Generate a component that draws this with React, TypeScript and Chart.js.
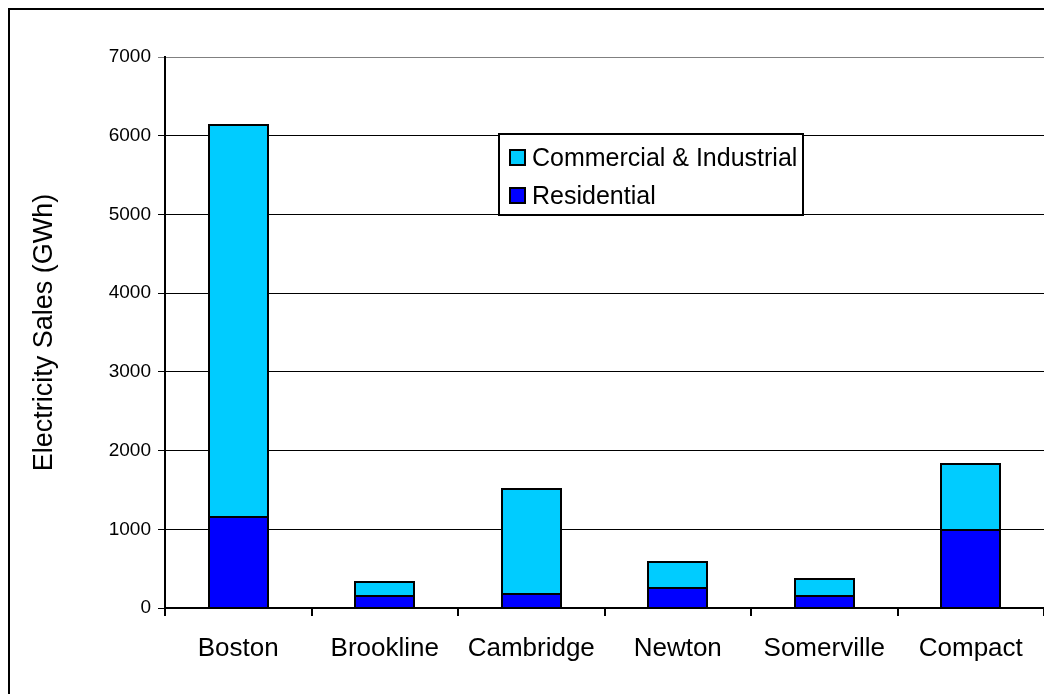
import React, { useEffect, useRef } from "react";
import { Chart, registerables } from "chart.js";

Chart.register(...registerables);

const categories = ["Boston", "Brookline", "Cambridge", "Newton", "Somerville", "Compact"];
const residential = [1160, 150, 175, 255, 155, 995];
const commercialIndustrial = [4970, 180, 1340, 335, 210, 838];
const yTicks = [0, 1000, 2000, 3000, 4000, 5000, 6000, 7000];
const seriesNames = ["Residential", "Commercial & Industrial"];
const seriesColors = ["#0000FF", "#00CCFF"];
const yTitle = "Electricity Sales (GWh)";

const FONT = "'Liberation Sans', Arial, sans-serif";

const framePlugin = {
  id: "frameAndLegend",
  beforeDraw(chart: any) {
    const ctx = chart.ctx;
    ctx.save();
    ctx.fillStyle = "#ffffff";
    ctx.fillRect(0, 0, chart.width, chart.height);
    ctx.strokeStyle = "#000";
    ctx.lineWidth = 2;
    ctx.beginPath();
    ctx.moveTo(9, chart.height + 5);
    ctx.lineTo(9, 9);
    ctx.lineTo(chart.width + 5, 9);
    ctx.stroke();
    ctx.restore();
  },
  afterDatasetsDraw(chart: any) {
    const ctx = chart.ctx;
    ctx.save();
    ctx.strokeStyle = "#000";
    ctx.lineWidth = 2;
    chart.data.datasets.forEach((_d: any, i: number) => {
      const meta = chart.getDatasetMeta(i);
      meta.data.forEach((el: any) => {
        const p = el.getProps(["x", "y", "base", "width"], true);
        const l = Math.round(p.x - p.width / 2);
        const r = Math.round(p.x + p.width / 2);
        const t = Math.round(Math.min(p.y, p.base));
        const b = Math.round(Math.max(p.y, p.base));
        ctx.strokeRect(l, t, r - l, b - t);
      });
    });
    ctx.restore();
  },
  afterDraw(chart: any) {
    const ctx = chart.ctx;
    ctx.save();
    const bx = 499, by = 134, bw = 304, bh = 81;
    ctx.fillStyle = "#fff";
    ctx.fillRect(bx, by, bw, bh);
    ctx.strokeStyle = "#000";
    ctx.lineWidth = 2;
    ctx.strokeRect(bx, by, bw, bh);
    const ds = chart.data.datasets.slice().reverse();
    const rows = [158, 196];
    ds.forEach((d: any, i: number) => {
      const cy = rows[i];
      ctx.fillStyle = d.backgroundColor;
      ctx.fillRect(510, cy - 8, 15, 15);
      ctx.lineWidth = 2;
      ctx.strokeStyle = "#000";
      ctx.strokeRect(510, cy - 8, 15, 15);
      ctx.fillStyle = "#000";
      ctx.font = `25px ${FONT}`;
      ctx.textBaseline = "middle";
      ctx.textAlign = "left";
      ctx.fillText(d.label, 532, cy + 1);
    });
    ctx.restore();
  },
};

export default function App() {
  const ref = useRef<HTMLCanvasElement | null>(null);
  useEffect(() => {
    if (!ref.current) return;
    const chart = new Chart(ref.current, {
      type: "bar",
      data: {
        labels: categories,
        datasets: [
          {
            label: seriesNames[0],
            data: residential,
            backgroundColor: seriesColors[0],
            borderWidth: 0,
            barPercentage: 0.4,
            categoryPercentage: 1,
          },
          {
            label: seriesNames[1],
            data: commercialIndustrial,
            backgroundColor: seriesColors[1],
            borderWidth: 0,
            barPercentage: 0.4,
            categoryPercentage: 1,
          },
        ],
      },
      options: {
        responsive: false,
        animation: false,
        devicePixelRatio: 1,
        layout: { padding: { top: 57, left: 0, right: 0, bottom: 0 } },
        plugins: { legend: { display: false }, tooltip: { enabled: false } },
        scales: {
          x: {
            stacked: true,
            grid: {
              offset: true,
              drawOnChartArea: false,
              color: "#000",
              lineWidth: 2,
              tickLength: 8,
            },
            border: { color: "#000", width: 2 },
            ticks: {
              color: "#000",
              font: { family: FONT, size: 26 },
              padding: 17,
              maxRotation: 0,
              autoSkip: false,
            },
            afterFit: (s: any) => {
              s.height = 86;
            },
          },
          y: {
            stacked: true,
            min: 0,
            max: 7000,
            afterBuildTicks: (s: any) => {
              s.ticks = yTicks.map((v) => ({ value: v }));
            },
            grid: {
              color: (c: any) => (c.tick && c.tick.value === 7000 ? "#808080" : "#000"),
              lineWidth: 1,
              tickLength: 7,
            },
            border: { color: "#000", width: 2 },
            ticks: {
              color: "#000",
              font: { family: FONT, size: 19 },
              padding: 7,
              callback: (v: any) => String(v),
            },
            title: {
              display: true,
              text: yTitle,
              color: "#000",
              font: { family: FONT, size: 27 },
              padding: { top: 28, bottom: 0 },
            },
            afterFit: (s: any) => {
              s.width = 165;
            },
          },
        },
      },
      plugins: [framePlugin],
    });
    return () => chart.destroy();
  }, []);
  return (
    <div style={{ position: "fixed", left: 0, top: 0, width: 1044, height: 694 }}>
      <canvas ref={ref} width={1044} height={694} style={{ width: 1044, height: 694 }} />
    </div>
  );
}
